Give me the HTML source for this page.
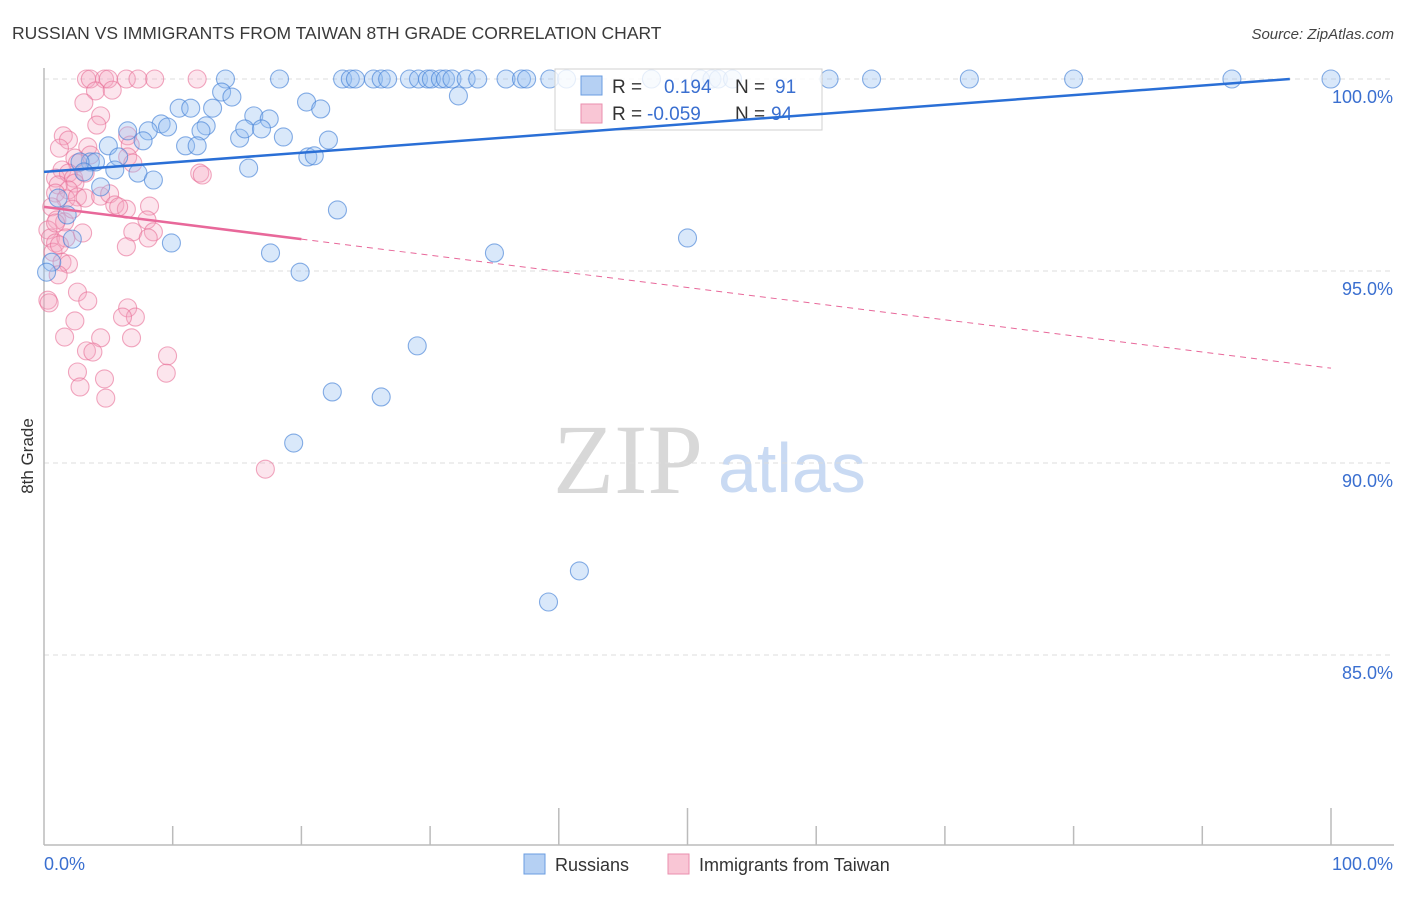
<!DOCTYPE html>
<html><head><meta charset="utf-8"><style>
body{margin:0;background:#fff;font-family:"Liberation Sans",sans-serif;}
</style></head><body>
<svg id="chart" width="1406" height="892" viewBox="0 0 1406 892" xmlns="http://www.w3.org/2000/svg" font-family="Liberation Sans, sans-serif">
<text x="12" y="39" font-size="17.5" fill="#3a3a3a">RUSSIAN VS IMMIGRANTS FROM TAIWAN 8TH GRADE CORRELATION CHART</text>
<text x="1394" y="39" font-size="15" fill="#444" text-anchor="end" font-style="italic">Source: ZipAtlas.com</text>
<text x="0" y="0" font-size="17" fill="#333" text-anchor="middle" transform="translate(33,456) rotate(-90)">8th Grade</text>
<g>
<text x="553" y="493" font-size="100" fill="#d8d8d8" style="font-family:'Liberation Serif',serif">ZIP</text>
<text x="718" y="492" font-size="70" fill="#c9daf3">atlas</text>
</g>
<g id="grid"></g>
<g id="axes"></g>
<g id="pink"></g>
<g id="blue"></g>
<g>
<rect x="555" y="69" width="267" height="61" fill="#fff" fill-opacity="0.8" stroke="#d0d0d0"/>
<rect x="581" y="76" width="21" height="19" fill="#b5d0f3" stroke="#6a9ce0"/>
<rect x="581" y="104" width="21" height="19" fill="#f9c6d5" stroke="#ea8fae"/>
<text x="612" y="93" font-size="19" fill="#333">R =</text>
<text x="664" y="93" font-size="19" fill="#3a6fd0">0.194</text>
<text x="735" y="93" font-size="19" fill="#333">N =</text>
<text x="775" y="93" font-size="19" fill="#3a6fd0">91</text>
<text x="612" y="120" font-size="19" fill="#333">R =</text>
<text x="647" y="120" font-size="19" fill="#3a6fd0">-0.059</text>
<text x="735" y="120" font-size="19" fill="#333">N =</text>
<text x="771" y="120" font-size="19" fill="#3a6fd0">94</text>
</g>
<g id="trend"></g>
<g>
<rect x="524" y="854" width="21" height="20" fill="#b5d0f3" stroke="#6a9ce0"/>
<text x="555" y="871" font-size="18" fill="#333">Russians</text>
<rect x="668" y="854" width="21" height="20" fill="#f9c6d5" stroke="#ea8fae"/>
<text x="699" y="871" font-size="18" fill="#333">Immigrants from Taiwan</text>
</g>
</svg>
<script>
const yTicks=[100,95,90,85];
const yTickLabels=["100.0%","95.0%","90.0%","85.0%"];
const xTickVals=[0,10,20,30,40,50,60,70,80,90,100];
const blueX=[14.1,18.3,23.2,23.8,24.2,25.6,26.2,26.7,28.4,29.1,29.8,30.1,30.8,31.2,31.7,32.8,33.7,35.9,37.1,37.5,39.3,40.6,47.2,51.0,51.9,52.4,53.5,61.0,64.3,71.9,80.0,92.3,100,
13.8,14.6,20.4,21.5,32.2,10.5,11.4,13.1,16.3,17.5,9.1,9.6,6.5,8.1,12.6,12.2,15.2,15.6,16.9,18.6,22.1,7.7,11.0,11.9,5.0,5.8,3.6,4.0,5.5,7.3,8.5,2.8,3.1,15.9,20.5,21.0,4.4,22.8,1.8,1.1,9.9,2.2,17.6,35.0,50.0,19.9,0.6,0.2,29.0,22.4,26.2,19.4,41.6,39.2];
const blueY=[100,100,100,100,100,100,100,100,100,100,100,100,100,100,100,100,100,100,100,100,100,100,100,100,100,100,100,100,100,100,100,100,100,
99.66,99.53,99.40,99.22,99.56,99.24,99.24,99.24,99.04,98.96,98.83,98.75,98.65,98.65,98.78,98.65,98.46,98.70,98.70,98.49,98.41,98.39,98.26,98.26,98.26,97.97,97.84,97.84,97.63,97.55,97.37,97.84,97.58,97.68,97.97,98.0,97.19,96.59,96.46,96.90,95.73,95.83,95.47,95.47,95.86,94.97,95.23,94.97,93.05,91.85,91.72,90.52,87.19,86.38];
const pinkX=[3.3,3.6,4.7,5.0,6.4,7.3,8.6,11.9,4.0,5.3,3.1,4.4,1.5,1.9,4.1,6.5,1.2,3.4,6.7,2.4,3.6,6.5,6.9,2.6,1.4,0.9,1.9,2.3,3.2,2.4,1.9,1.1,0.9,1.7,2.6,3.2,4.4,5.1,5.5,6.4,0.6,1.0,1.6,0.3,0.5,0.9,1.7,3.0,6.9,6.4,8.2,8.0,8.5,8.1,12.1,12.3,0.7,1.4,1.9,1.1,0.3,0.4,2.6,3.4,2.4,1.6,4.4,6.5,7.1,6.1,6.8,3.3,3.8,9.6,9.5,2.6,2.8,4.7,4.8,17.2,0.9,1.2,2.2,5.8];
const pinkY=[100,100,100,100,100,100,100,100,99.69,99.71,99.38,99.04,98.52,98.41,98.80,98.52,98.20,98.23,98.28,97.94,98.02,97.97,97.81,97.81,97.63,97.42,97.55,97.42,97.55,97.29,97.11,97.24,97.03,96.88,96.93,96.90,96.95,97.01,96.72,96.61,96.67,96.33,96.28,96.07,95.86,95.73,95.86,95.99,96.02,95.63,96.69,96.33,96.02,95.86,97.55,97.50,95.49,95.23,95.18,94.90,94.24,94.17,94.45,94.22,93.70,93.28,93.26,94.04,93.80,93.80,93.26,92.92,92.89,92.79,92.34,92.37,91.98,92.19,91.69,89.84,96.25,95.68,96.61,96.67];
const blueTrend=[97.58,0.025];
const pinkTrend=[96.67,-0.042];
const pinkSolidEnd=20;

const NS="http://www.w3.org/2000/svg";
const X=v=>44+v*12.87;
const Y=v=>79+(100-v)*38.4;
function mk(tag,attrs,parent){const e=document.createElementNS(NS,tag);for(const k in attrs)e.setAttribute(k,attrs[k]);parent.appendChild(e);return e;}
const grid=document.getElementById('grid'),axes=document.getElementById('axes');
yTicks.forEach((t,i)=>{
  const l=mk('line',{x1:44,x2:1394,y1:Y(t),y2:Y(t),stroke:'#dcdcdc','stroke-dasharray':'5,4'},grid);
  
  
  const tx=mk('text',{x:1393,y:Y(t)+24,'font-size':18,fill:'#3a6fd0','text-anchor':'end'},grid);
  tx.textContent=yTickLabels[i];
  
  
});
const ya=mk('line',{x1:44,x2:44,y1:68,y2:845,stroke:'#bbb','stroke-width':1.5},axes);


const xa=mk('line',{x1:44,x2:1394,y1:845,y2:845,stroke:'#bbb','stroke-width':1.5},axes);


xTickVals.forEach(v=>{
  if(v===0)return;
  const long=(v===40||v===50||v===100);
  const t=mk('line',{x1:X(v),x2:X(v),y1:long?808:826,y2:845,stroke:'#bbb','stroke-width':1.5},axes);
  
  
});
const xl0=mk('text',{x:44,y:870,'font-size':18,fill:'#3a6fd0'},axes);xl0.textContent='0.0%';


const xl1=mk('text',{x:1393,y:870,'font-size':18,fill:'#3a6fd0','text-anchor':'end'},axes);xl1.textContent='100.0%';


function pts(xs,ys,g,fill,stroke,name){xs.forEach((x,i)=>{
  const c=mk('circle',{cx:X(x),cy:Y(ys[i]),r:9,fill:fill,stroke:stroke,'stroke-width':1.1},g);
  
  
});}
pts(pinkX,pinkY,document.getElementById('pink'),'rgba(246,170,196,0.3)','rgba(232,110,150,0.6)','taiwan-point');
pts(blueX,blueY,document.getElementById('blue'),'rgba(150,190,240,0.36)','rgba(70,130,215,0.65)','russians-point');
const tr=document.getElementById('trend');
const bEnd=Math.min(100,(100-blueTrend[0])/blueTrend[1]);
const bl=mk('line',{x1:X(0),y1:Y(blueTrend[0]),x2:X(bEnd),y2:Y(blueTrend[0]+blueTrend[1]*bEnd),stroke:'#2a6fd6','stroke-width':2.5},tr);


const ps=mk('line',{x1:X(0),y1:Y(pinkTrend[0]),x2:X(pinkSolidEnd),y2:Y(pinkTrend[0]+pinkTrend[1]*pinkSolidEnd),stroke:'#e8689a','stroke-width':2.5},tr);


const pd=mk('line',{x1:X(pinkSolidEnd),y1:Y(pinkTrend[0]+pinkTrend[1]*pinkSolidEnd),x2:X(100),y2:Y(pinkTrend[0]+pinkTrend[1]*100),stroke:'#e8689a','stroke-width':1,'stroke-dasharray':'6,5'},tr);


</script>
</body></html>
